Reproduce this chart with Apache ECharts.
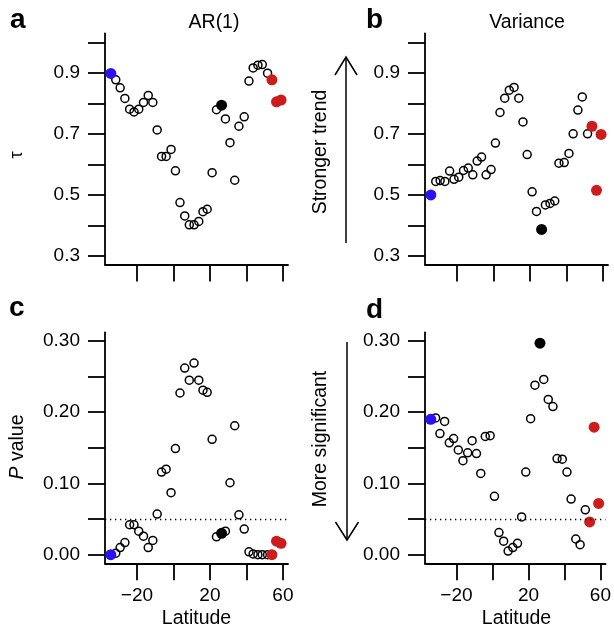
<!DOCTYPE html>
<html>
<head>
<meta charset="utf-8">
<script src="https://cdn.jsdelivr.net/npm/echarts@6/dist/echarts.min.js"></script>
<style>
html,body{margin:0;padding:0;background:#fff;}
#chart{width:614px;height:633px;}
</style>
</head>
<body>
<div id="chart"></div>
<script>
// ---- data ----
const latitude = [-34.3,-31.6,-29.2,-26.6,-24.0,-21.6,-19.0,-16.4,-13.8,-11.3,-8.9,-6.5,-4.0,-1.3,1.1,3.6,6.2,8.7,11.3,13.9,16.2,18.5,21.2,23.6,26.4,28.5,31.0,33.6,35.9,38.8,41.4,43.7,46.3,48.7,51.6,54.0,56.5,59.0];
const tauAR1 = [0.898,0.877,0.851,0.816,0.781,0.772,0.781,0.803,0.826,0.803,0.713,0.626,0.626,0.649,0.579,0.475,0.431,0.402,0.402,0.413,0.445,0.453,0.573,0.779,0.794,0.749,0.671,0.548,0.725,0.756,0.873,0.916,0.925,0.927,0.899,0.877,0.805,0.811];
const tauVariance = [0.500,0.544,0.547,0.544,0.578,0.551,0.558,0.580,0.588,0.566,0.611,0.624,0.566,0.583,0.670,0.770,0.817,0.843,0.852,0.817,0.739,0.632,0.510,0.446,0.387,0.467,0.472,0.480,0.604,0.606,0.636,0.700,0.778,0.821,0.700,0.725,0.515,0.698];
const pAR1 = [0.000,0.002,0.010,0.017,0.042,0.042,0.033,0.026,0.010,0.020,0.057,0.116,0.120,0.087,0.149,0.227,0.262,0.245,0.269,0.245,0.231,0.228,0.162,0.025,0.030,0.033,0.101,0.181,0.056,0.036,0.004,0.001,0.000,0.000,0.000,0.000,0.019,0.016];
const pVariance = [0.190,0.192,0.170,0.187,0.157,0.163,0.147,0.132,0.143,0.160,0.142,0.114,0.166,0.167,0.082,0.031,0.019,0.005,0.010,0.016,0.053,0.116,0.191,0.238,0.297,0.246,0.218,0.208,0.135,0.134,0.116,0.078,0.022,0.014,0.063,0.046,0.179,0.072];
const blueIdx = [0];
const blackIdx = [24];
const redIdx = [35,36,37];
const xTicks = [-20,0,20,40,60];
const xTickLabels = [-20,20,60];
const tauTicks = [0.3,0.4,0.5,0.6,0.7,0.8,0.9,1.0];
const tauTickLabels = [0.3,0.5,0.7,0.9];
const pTicks = [0,0.05,0.1,0.15,0.2,0.25,0.3];
const pTickLabels = [0,0.1,0.2,0.3];
const sigLevel = 0.05;
const panelTitles = ['AR(1)','Variance'];
const panelLetters = ['a','b','c','d'];

// ---- chart ----
const FF = '"Liberation Sans", Arial, Helvetica, sans-serif';
const BLUE = '#2a12f5', RED = '#cc1c1c', BLACK = '#000';
const chart = echarts.init(document.getElementById('chart'), null, {renderer:'canvas'});

const special = blueIdx.concat(blackIdx, redIdx);
const openIdx = latitude.map((_, k) => k).filter(k => special.indexOf(k) < 0);
const pick = (vals, idxs) => idxs.map(k => [latitude[k], vals[k]]);
const panelsY = [tauAR1, tauVariance, pAR1, pVariance];

const grids = [
  {left:105, top:33.3, width:183, height:231.2},
  {left:425, top:33.3, width:183, height:231.2},
  {left:105, top:332.3, width:183, height:231},
  {left:425, top:332.3, width:183, height:231}
];

const axisLineStyle = {color:'#000', width:1.8};
const fmtLat = v => (v < 0 ? '\u2212' + Math.abs(v) : String(v));

const xAxes = [0,1,2,3].map(i => ({
  type:'value', gridIndex:i, min:-37.5, max:62.8,
  axisLine:{show:true, onZero:false, lineStyle:axisLineStyle},
  axisTick:{show:true, length:17, lineStyle:axisLineStyle, customValues:xTicks},
  axisLabel:{show:i >= 2, customValues:xTickLabels, formatter:fmtLat, margin:23,
             fontSize:19, color:'#000', fontFamily:FF},
  splitLine:{show:false}
}));

const yAxes = [0,1,2,3].map(i => {
  const isTau = i < 2;
  return {
    type:'value', gridIndex:i,
    min: isTau ? 0.272 : -0.0121,
    max: isTau ? 1.0295 : 0.3122,
    axisLine:{show:true, onZero:false, lineStyle:axisLineStyle},
    axisTick:{show:true, length:17, lineStyle:axisLineStyle, customValues: isTau ? tauTicks : pTicks},
    axisLabel:{show:true, customValues: isTau ? tauTickLabels : pTickLabels,
               formatter: v => isTau ? v.toFixed(1) : v.toFixed(2),
               margin:25, fontSize:19, color:'#000', fontFamily:FF},
    splitLine:{show:false}
  };
});

const series = [];
panelsY.forEach((vals, i) => {
  const open = {
    type:'scatter', xAxisIndex:i, yAxisIndex:i, data:pick(vals, openIdx),
    symbol:'circle', symbolSize:8, silent:true, z:2,
    itemStyle:{color:'rgba(0,0,0,0)', borderColor:'#000', borderWidth:1.5, opacity:1}
  };
  if (i >= 2) {
    open.markLine = {
      silent:true, symbol:'none', label:{show:false},
      lineStyle:{color:'#000', width:1.3, type:[1.3,3.7], opacity:1},
      data:[{yAxis:sigLevel}]
    };
  }
  series.push(open);
  [[blueIdx, BLUE], [blackIdx, BLACK], [redIdx, RED]].forEach(([idxs, col]) => {
    series.push({
      type:'scatter', xAxisIndex:i, yAxisIndex:i, data:pick(vals, idxs),
      symbol:'circle', symbolSize:11, silent:true, z:3,
      itemStyle:{color:col, borderWidth:0, opacity:1}
    });
  });
});

const txt = (x, y, text, opt) => Object.assign({
  type:'text', x:x, y:y, silent:true,
  style:Object.assign({text:text, fill:'#000', font:'19.5px ' + FF, textAlign:'center', textVerticalAlign:'middle'}, (opt && opt.style) || {})
}, opt && opt.rotation !== undefined ? {rotation:opt.rotation} : {});

const R = Math.PI / 2;
const graphics = [
  txt(10, 20.5, panelLetters[0], {style:{font:'bold 28px ' + FF, textAlign:'left'}}),
  txt(366, 20, panelLetters[1], {style:{font:'bold 28px ' + FF, textAlign:'left'}}),
  txt(9, 308.5, panelLetters[2], {style:{font:'bold 28px ' + FF, textAlign:'left'}}),
  txt(366, 310.5, panelLetters[3], {style:{font:'bold 28px ' + FF, textAlign:'left'}}),
  txt(214, 22.5, panelTitles[0]),
  txt(527, 22.5, panelTitles[1]),
  txt(196.5, 619, 'Latitude'),
  txt(516.5, 619, 'Latitude'),
  txt(17, 155, '\u03C4', {rotation:R, style:{font:'18px ' + FF}}),
  {type:'text', x:18, y:447, rotation:R, silent:true,
   style:{text:'{i|P} value', fill:'#000', font:'19.5px ' + FF, textAlign:'center', textVerticalAlign:'middle',
          rich:{i:{fontStyle:'italic', fontSize:19.5, fontFamily:FF}}}},
  txt(321, 152, 'Stronger trend', {rotation:R}),
  txt(321, 439, 'More significant', {rotation:R}),
  // arrows
  {type:'line', silent:true, shape:{x1:346, y1:243, x2:346, y2:57}, style:{stroke:'#000', lineWidth:1.5}},
  {type:'polyline', silent:true, shape:{points:[[335,75],[346,57],[357,75]]}, style:{stroke:'#000', lineWidth:1.5, fill:null}},
  {type:'line', silent:true, shape:{x1:347, y1:342, x2:347, y2:540}, style:{stroke:'#000', lineWidth:1.5}},
  {type:'polyline', silent:true, shape:{points:[[335.5,522],[347,540],[358.5,522]]}, style:{stroke:'#000', lineWidth:1.5, fill:null}}
];

chart.setOption({
  animation:false,
  backgroundColor:'#fff',
  grid:grids,
  xAxis:xAxes,
  yAxis:yAxes,
  series:series,
  graphic:{elements:graphics}
});
</script>
</body>
</html>
